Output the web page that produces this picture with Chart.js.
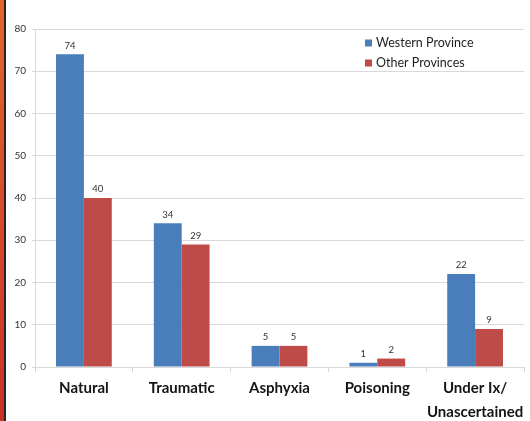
<!DOCTYPE html>
<html>
<head>
<meta charset="utf-8">
<script src="https://cdn.jsdelivr.net/npm/chart.js@4/dist/chart.umd.min.js"></script>
<style>
  html, body { margin: 0; padding: 0; background: #ffffff; }
  #wrap { position: relative; width: 530px; height: 421px; overflow: hidden; }
  #edge { position: absolute; left: 0; top: 0; width: 4px; height: 421px;
          background: linear-gradient(#e2662c, #d4452a 60%, #c8302a); }
  #edgeLine { position: absolute; left: 4px; top: 0; width: 2px; height: 421px; background: #2b2222; }
  canvas { position: absolute; left: 0; top: 0; }
</style>
</head>
<body>
<div id="wrap">
  <canvas id="c" width="530" height="421"></canvas>
  <div id="edge"></div>
  <div id="edgeLine"></div>
</div>
<script>
const categories = ['Natural', 'Traumatic', 'Asphyxia', 'Poisoning', ['Under Ix/', 'Unascertained']];
const westernProvince = [74, 34, 5, 1, 22];
const otherProvinces = [40, 29, 5, 2, 9];
const seriesNames = ['Western Province', 'Other Provinces'];
const yTicks = [0, 10, 20, 30, 40, 50, 60, 70, 80];

const BLUE = '#4a7ebb';
const RED = '#be4b48';
const GRID = '#d9d9d9';

// Value labels above each bar, read from the bar elements themselves
const valueLabels = {
  id: 'valueLabels',
  afterDatasetsDraw(chart) {
    const ctx = chart.ctx;
    ctx.save();
    ctx.font = '9.5px Lato, "Open Sans", sans-serif';
    ctx.fillStyle = '#333333';
    ctx.textAlign = 'center';
    ctx.textBaseline = 'bottom';
    chart.data.datasets.forEach((ds, i) => {
      chart.getDatasetMeta(i).data.forEach((bar, j) => {
        ctx.fillText(String(ds.data[j]), bar.x, bar.y - 4);
      });
    });
    ctx.restore();
  }
};

// Legend box in the upper right of the plot
const boxLegend = {
  id: 'boxLegend',
  afterDraw(chart) {
    const ctx = chart.ctx;
    ctx.save();
    ctx.font = '12.5px Lato, "Open Sans", sans-serif';
    ctx.textBaseline = 'middle';
    ctx.textAlign = 'left';
    const x0 = 365, y0 = 43, step = 20;
    chart.data.datasets.forEach((ds, i) => {
      const y = y0 + i * step;
      ctx.fillStyle = ds.backgroundColor;
      ctx.fillRect(x0, y - 3.5, 7, 7);
      ctx.fillStyle = '#1f1f1f';
      ctx.fillText(ds.label, x0 + 11, y);
    });
    ctx.restore();
  }
};

new Chart(document.getElementById('c'), {
  type: 'bar',
  data: {
    labels: categories,
    datasets: [
      { label: seriesNames[0], data: westernProvince, backgroundColor: BLUE,
        categoryPercentage: 0.57, barPercentage: 1.0 },
      { label: seriesNames[1], data: otherProvinces, backgroundColor: RED,
        categoryPercentage: 0.57, barPercentage: 1.0 }
    ]
  },
  options: {
    responsive: false,
    animation: false,
    devicePixelRatio: 1,
    layout: { padding: { left: 0, right: 6, top: 29, bottom: 0 } },
    plugins: {
      legend: { display: false },
      tooltip: { enabled: false }
    },
    scales: {
      x: {
        offset: true,
        grid: { offset: true, drawOnChartArea: false, drawTicks: true, tickLength: 5, color: GRID },
        border: { display: true, color: GRID },
        ticks: {
          padding: 5,
          color: '#141414',
          font: { family: 'Lato, "Open Sans", sans-serif', size: 15, weight: 'bold', lineHeight: 1.55 },
          maxRotation: 0, autoSkip: false
        },
        afterFit(scale) { scale.height = 54; }
      },
      y: {
        min: 0, max: 80,
        afterBuildTicks(scale) { scale.ticks = yTicks.map(v => ({ value: v })); },
        grid: { color: GRID, drawTicks: true, tickLength: 3 },
        border: { display: true, color: GRID },
        ticks: {
          padding: 6,
          color: '#333333',
          font: { family: 'Lato, "Open Sans", sans-serif', size: 10 }
        },
        afterFit(scale) { scale.width = 35; }
      }
    }
  },
  plugins: [valueLabels, boxLegend]
});
</script>
</body>
</html>
